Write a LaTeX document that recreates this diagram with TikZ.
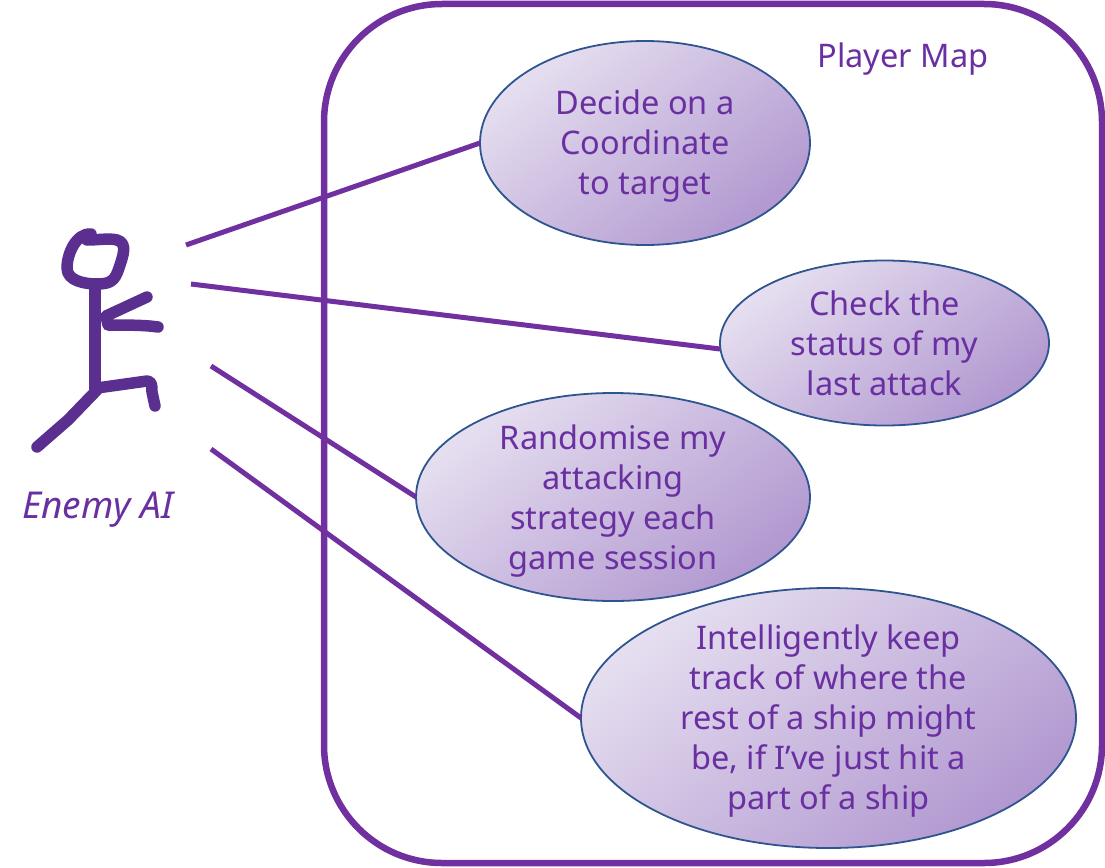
\documentclass[tikz,border=0pt]{standalone}
\usepackage{fontspec}
\setmainfont{Noto Sans}
\usetikzlibrary{shapes.geometric}
\definecolor{purp}{HTML}{7030A0}
\definecolor{txtp}{HTML}{6A2FA0}
\definecolor{fig}{HTML}{5B2F8F}
\definecolor{edge}{HTML}{2F5590}
\definecolor{lite}{HTML}{E6DFF0}
\definecolor{dark}{HTML}{B198D0}
\tikzset{
  x=1pt,y=-1pt,
  usecase/.style={ellipse,draw=edge,line width=1.8pt,inner sep=0pt,outer sep=0pt,
    top color=lite,bottom color=dark,shading angle=38},
  lbl/.style={text=txtp,align=center,inner sep=0pt,font=\fontsize{32.5}{40}\selectfont},
  link/.style={draw=purp,line width=5pt},
  stick/.style={draw=fig,line width=11.5pt,line cap=round,line join=round}
}
\begin{document}
\begin{tikzpicture}
\useasboundingbox (0,0) rectangle (1105,867);
\node[draw=purp,line width=6.5pt,rounded corners=118pt,minimum width=778pt,minimum height=859pt,inner sep=0pt,outer sep=0pt] (map) at (713,433.5) {};
\node[lbl] (maplabel) at (903,59) {Player Map};

\coordinate (a1) at (186,245);
\coordinate (a2) at (191,284);
\coordinate (a3) at (211,366);
\coordinate (a4) at (211,449);

\node[usecase,minimum width=330pt,minimum height=204pt] (e1) at (645,143) {};
\node[usecase,minimum width=329pt,minimum height=165pt] (e2) at (884.5,343) {};
\node[usecase,minimum width=394pt,minimum height=208pt] (e3) at (613,497) {};
\node[usecase,minimum width=495pt,minimum height=260pt] (e4) at (828.5,718) {};

\node[lbl] (t1) at (645,146) {Decide on a\\Coordinate\\to target};
\node[lbl] (t2) at (884.5,343) {Check the\\status of my\\last attack};
\node[lbl] (t3) at (613,501) {Randomise my\\attacking\\strategy each\\game session};
\node[lbl] (t4) at (828.5,721) {Intelligently keep\\track of where the\\rest of a ship might\\be, if I’ve just hit a\\part of a ship};

\draw[link] (a1) -- (e1.west);
\draw[link] (a2) -- ([yshift=-6pt]e2.west);
\draw[link] (a3) -- (e3.west);
\draw[link] (a4) -- (e4.west);

% stick figure
\draw[stick] (91,234) .. controls (76,233) and (67,254) .. (67,268)
  .. controls (67,281) and (85,284) .. (97,284)
  .. controls (110,284) and (115,281) .. (119,268)
  .. controls (123,256) and (128,243) .. (117,240)
  .. controls (110,238) and (98,240) .. (87,240);
\draw[stick] (95,286) -- (95,388);
\draw[stick] (147,297) -- (106,316) -- (108,325) .. controls (125,325) and (145,325) .. (158,327);
\draw[stick] (97,388) -- (147,381) .. controls (152,381) and (152,386) .. (152,392) -- (155,406);
\draw[stick] (97,390) -- (68,420) -- (37,447);
\node[lbl,font=\fontsize{37}{40}\selectfont\itshape] (actor) at (98,510) {Enemy AI};
\end{tikzpicture}
\end{document}
